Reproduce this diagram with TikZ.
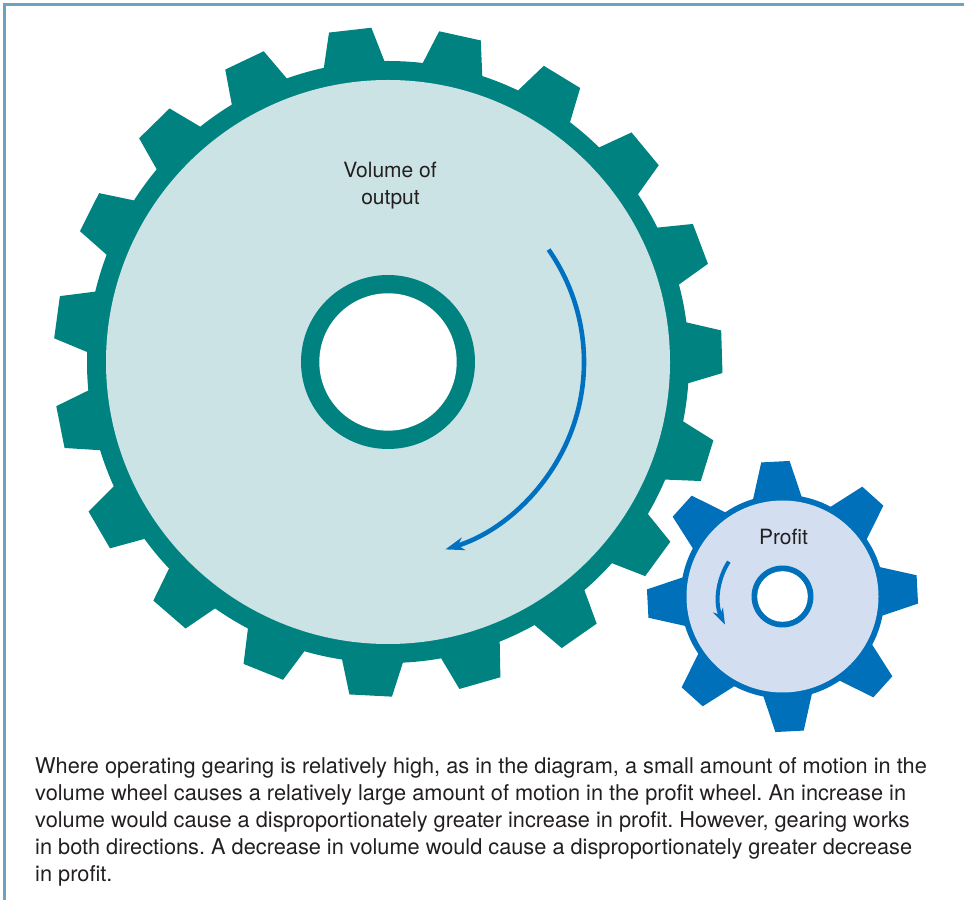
\documentclass[tikz,border=0pt]{standalone}
\usepackage{fontspec}
\setmainfont{TeX Gyre Heros}
\usetikzlibrary{arrows.meta}
\frenchspacing

\definecolor{gearteal}{HTML}{008280}
\definecolor{discteal}{HTML}{CCE3E5}
\definecolor{gearblue}{HTML}{0070BA}
\definecolor{discblue}{HTML}{D3DFF1}
\definecolor{arrowblue}{HTML}{0070C0}
\definecolor{framecol}{HTML}{6CA3BE}
\definecolor{inktext}{HTML}{231F20}

\tikzset{
  framestyle/.style={draw=framecol, line width=2.7pt},
  turnarrow/.style={draw=arrowblue, line width=4.6pt,
    -{Stealth[length=19pt,width=13pt,inset=6pt]}},
  smallturn/.style={draw=arrowblue, line width=4pt,
    -{Stealth[length=16pt,width=11pt,inset=5pt]}},
  label/.style={text=inktext, font=\fontsize{21}{27}\selectfont, inner sep=0pt},
  caption/.style={text=inktext, font=\fontsize{21.75}{27}\selectfont,
    inner sep=0pt, align=left},
}

\begin{document}
\begin{tikzpicture}[x=1pt,y=1pt]
  \useasboundingbox (0,0) rectangle (964,900);

  % frame along the top and left edges
  \coordinate (fbl) at (4.3,0);
  \coordinate (ftl) at (4.3,895.5);
  \coordinate (ftr) at (964,895.5);
  \draw[framestyle] (fbl) -- (ftl) -- (ftr);

  % ---------- large gear: volume of output ----------
  \coordinate (bigc) at (388,538);
  \begin{scope}[shift={(bigc)}]
    \foreach \k in {0,...,18} {
      \fill[gearteal, rotate={96.5+\k*360/19}]
        (285,-34.3) -- (334,-21.3) -- (334,21.3) -- (285,34.3) -- cycle;
    }
    \fill[gearteal] (0,0) circle (301);
    \fill[discteal] (0,0) circle (282);
    \fill[gearteal] (0,0) circle (87);
    \fill[white] (0,0) circle (68.7);
  \end{scope}
  \draw[turnarrow] ([shift={(35:196)}]bigc) arc[start angle=35, end angle=-73, radius=196];
  \node[label, anchor=base] (vol1) at (390,722) {Volume of};
  \node[label, anchor=base] (vol2) at (390.5,695) {output};

  % ---------- small gear: profit ----------
  \coordinate (smallc) at (782.5,303.5);
  \begin{scope}[shift={(smallc)}]
    \foreach \k in {0,...,7} {
      \fill[gearblue, rotate={3+\k*45}]
        (90,-26.7) -- (135,-14.2) -- (135,14.2) -- (90,26.7) -- cycle;
    }
    \fill[gearblue] (0,0) circle (101.8);
    \fill[discblue] (0,0) circle (96);
    \fill[gearblue] (0,0) circle (31);
    \fill[white] (0,0) circle (25.3);
  \end{scope}
  \draw[smallturn] ([shift={(147:64)}]smallc) arc[start angle=147, end angle=206, radius=64];
  \node[label, anchor=base] (prof) at (783.5,355) {Profit};

  % ---------- explanatory caption (anchored on its last line) ----------
  \node[caption, anchor=base west] (cap) at (35,19) {%
    Where operating gearing is relatively high, as in the diagram, a small amount of motion in the\\
    volume wheel causes a relatively large amount of motion in the profit wheel. An increase in\\
    volume would cause a disproportionately greater increase in profit. However, gearing works\\
    in both directions. A decrease in volume would cause a disproportionately greater decrease\\
    in profit.};
\end{tikzpicture}
\end{document}
